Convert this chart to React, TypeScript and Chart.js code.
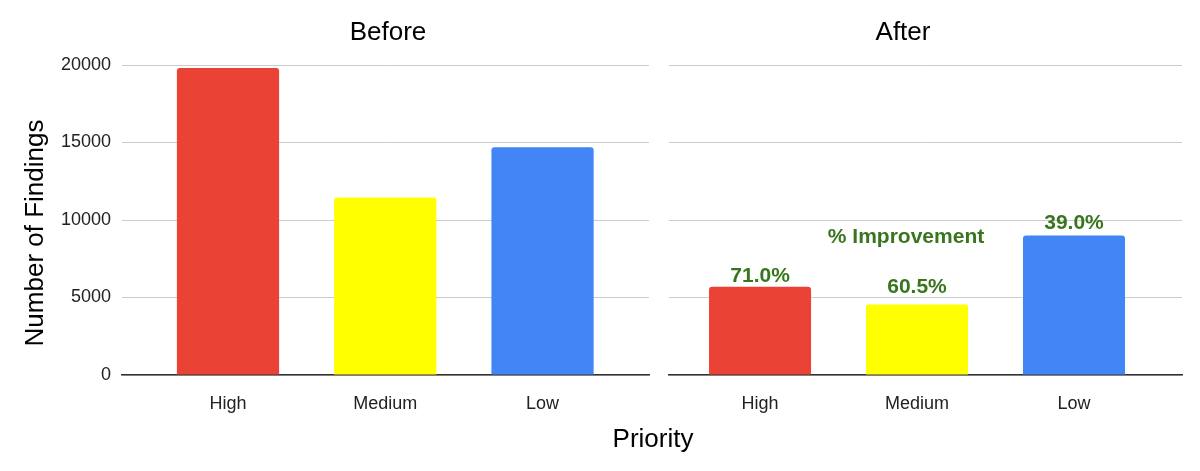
import { useEffect, useRef } from "react";
import { Chart, registerables } from "chart.js";

Chart.register(...registerables);

// ---- data ----
const categories = ["High", "Medium", "Low"];
const beforeValues = [19800, 11450, 14700];
const afterValues = [5700, 4550, 9000];
const yTicks = [0, 5000, 10000, 15000, 20000];
const improvementLabels = ["71.0%", "60.5%", "39.0%"];
// baseline of each improvement label, in "Number of Findings" units
const improvementLabelY = [6000, 5300, 9400];
const improvementTitle = "% Improvement";
const improvementTitleAt = [0.93, 8500];
const barColors = ["#ea4335", "#ffff00", "#4285f4"];
const panelTitles = ["Before", "After"];
const yAxisTitle = "Number of Findings";
const xAxisTitle = "Priority";

const FONT = '"Liberation Sans", Arial, Helvetica, sans-serif';
const GREEN = "#38761d";

type TextItem = {
  text: string;
  x: number;
  y: number;
  size: number;
  bold?: boolean;
  color: string;
  rotate?: boolean;
  data?: boolean; // x/y in scale units
};

function makeTextPlugin(id: string, items: TextItem[]) {
  return {
    id,
    afterDatasetsDraw(chart: any) {
      const ctx = chart.ctx as CanvasRenderingContext2D;
      ctx.save();
      for (const it of items) {
        let px = it.x;
        let py = it.y;
        if (it.data) {
          px = chart.scales.x.getPixelForValue(it.x);
          py = chart.scales.y.getPixelForValue(it.y);
        }
        ctx.font = `${it.bold ? "bold " : ""}${it.size}px ${FONT}`;
        ctx.fillStyle = it.color;
        ctx.textAlign = "center";
        ctx.textBaseline = "alphabetic";
        ctx.save();
        ctx.translate(px, py);
        if (it.rotate) ctx.rotate(-Math.PI / 2);
        ctx.fillText(it.text, 0, 0);
        ctx.restore();
      }
      ctx.restore();
    },
  };
}

function makeConfig(
  values: number[],
  xMin: number,
  xMax: number,
  axisWidth: number,
  showYTicks: boolean,
  padRight: number,
  texts: TextItem[]
): any {
  return {
    type: "bar",
    data: {
      datasets: [
        {
          data: values.map((v, i) => ({ x: i, y: v })),
          backgroundColor: barColors,
          borderWidth: 0,
          borderRadius: 3,
          borderSkipped: "start",
          categoryPercentage: 1,
          barPercentage: 0.65,
        },
      ],
    },
    options: {
      animation: false,
      responsive: false,
      devicePixelRatio: 1,
      layout: { padding: { top: 65, right: padRight, bottom: 0, left: 0 } },
      plugins: {
        legend: { display: false },
        tooltip: { enabled: false },
        title: { display: false },
      },
      scales: {
        x: {
          type: "linear",
          min: xMin,
          max: xMax,
          offset: false,
          afterBuildTicks: (s: any) => {
            s.ticks = categories.map((_, i) => ({ value: i }));
          },
          afterFit: (s: any) => {
            s.height = 96;
          },
          ticks: {
            callback: (v: number) => categories[v] ?? "",
            font: { family: FONT, size: 18 },
            color: "#222222",
            padding: 10,
            maxRotation: 0,
            autoSkip: false,
          },
          grid: { display: false, offset: false },
          border: { display: true, color: "#333333", width: 1.5 },
        },
        y: {
          min: 0,
          max: 20000,
          afterBuildTicks: (s: any) => {
            s.ticks = yTicks.map((v) => ({ value: v }));
          },
          afterFit: (s: any) => {
            s.width = axisWidth;
          },
          ticks: {
            display: showYTicks,
            callback: (v: number) => String(v),
            font: { family: FONT, size: 18 },
            color: "#222222",
            padding: 11,
          },
          grid: { color: "#cccccc", lineWidth: 1, drawTicks: false },
          border: { display: false },
        },
      },
    },
    plugins: [makeTextPlugin("texts", texts)],
  };
}

export default function App() {
  const leftRef = useRef<HTMLCanvasElement>(null);
  const rightRef = useRef<HTMLCanvasElement>(null);

  useEffect(() => {
    document.body.style.margin = "0";
    const leftTexts: TextItem[] = [
      { text: panelTitles[0], x: 388, y: 40, size: 26, color: "#000000" },
      { text: yAxisTitle, x: 43, y: 233, size: 26, color: "#000000", rotate: true },
      { text: xAxisTitle, x: 653, y: 447, size: 26, color: "#000000" },
    ];
    const rightTexts: TextItem[] = [
      { text: panelTitles[1], x: 903, y: 40, size: 26, color: "#000000" },
      {
        text: improvementTitle,
        x: improvementTitleAt[0],
        y: improvementTitleAt[1],
        size: 21,
        bold: true,
        color: GREEN,
        data: true,
      },
      ...improvementLabels.map((t, i) => ({
        text: t,
        x: i,
        y: improvementLabelY[i],
        size: 21,
        bold: true,
        color: GREEN,
        data: true,
      })),
    ];
    const c1 = new Chart(
      leftRef.current!,
      makeConfig(beforeValues, -0.674, 2.677, 122, true, 551, leftTexts)
    );
    const c2 = new Chart(
      rightRef.current!,
      makeConfig(afterValues, -0.58, 2.688, 669, false, 18, rightTexts)
    );
    return () => {
      c1.destroy();
      c2.destroy();
    };
  }, []);

  return (
    <div style={{ position: "relative", width: 1200, height: 471, background: "#ffffff" }}>
      <canvas
        ref={leftRef}
        width={1200}
        height={471}
        style={{ position: "absolute", left: 0, top: 0, width: 1200, height: 471 }}
      />
      <canvas
        ref={rightRef}
        width={1200}
        height={471}
        style={{ position: "absolute", left: 0, top: 0, width: 1200, height: 471 }}
      />
    </div>
  );
}
